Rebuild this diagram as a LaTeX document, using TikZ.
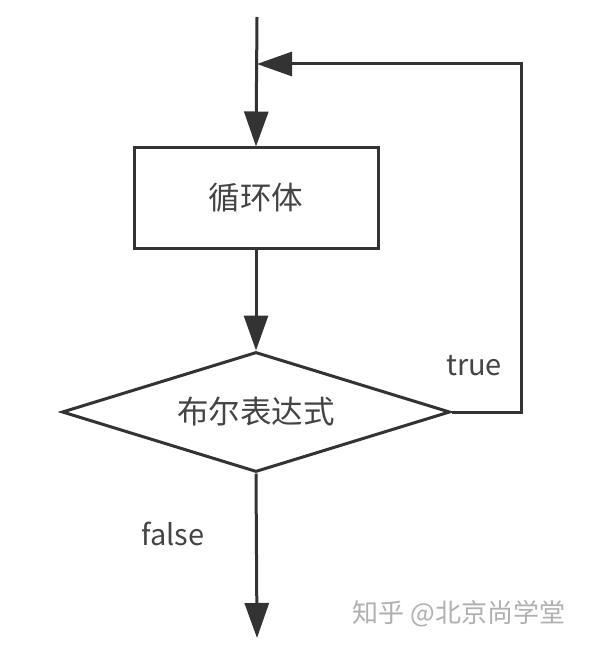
\documentclass[tikz,border=0pt]{standalone}
\usepackage{fontspec}
\setmainfont{Noto Sans CJK SC}
\usetikzlibrary{arrows.meta,shapes.geometric}
\definecolor{linec}{HTML}{333333}
\definecolor{textc}{HTML}{444444}
\definecolor{wmc}{HTML}{B0B0B0}
\tikzset{
  flow/.style={draw=linec, line width=3pt, -{Triangle[length=35pt,width=24pt]}},
  box/.style={draw=linec, line width=3pt, minimum width=244pt, minimum height=100pt, inner sep=0pt, text=textc, font=\fontsize{31.5}{31.5}\selectfont},
  cond/.style={draw=linec, line width=3pt, diamond, aspect=3.23, minimum width=388pt, minimum height=120pt, inner sep=0pt, text=textc, font=\fontsize{31.5}{31.5}\selectfont},
  lbl/.style={text=textc, font=\fontsize{29}{29}\selectfont, inner sep=0pt},
  wm/.style={text=wmc, font=\fontsize{26}{26}\selectfont, inner sep=0pt}
}
\begin{document}
\begin{tikzpicture}[x=1pt,y=-1pt]
\useasboundingbox[fill=white] (0,0) rectangle (592,652);
\coordinate (start) at (257,17);
\coordinate (join) at (257,64);
\node[box] (body) at (256,198) {循环体};
\node[cond] (bool) at (256,412) {布尔表达式};
\coordinate (rc) at (521,412);
\coordinate (tr) at (521,64);
\coordinate (end) at (257,638);
\draw[flow] (start) -- (body.north);
\draw[flow] (body.south) -- (bool.north);
\draw[flow] (bool.east) -- (rc) -- (tr) -- (join);
\draw[flow] (bool.south) -- (end);
\node[lbl] (t) at (474,366) {true};
\node[lbl] (f) at (173,534) {false};
\node[wm] (w) at (459,614) {知乎 @北京尚学堂};
\end{tikzpicture}
\end{document}
